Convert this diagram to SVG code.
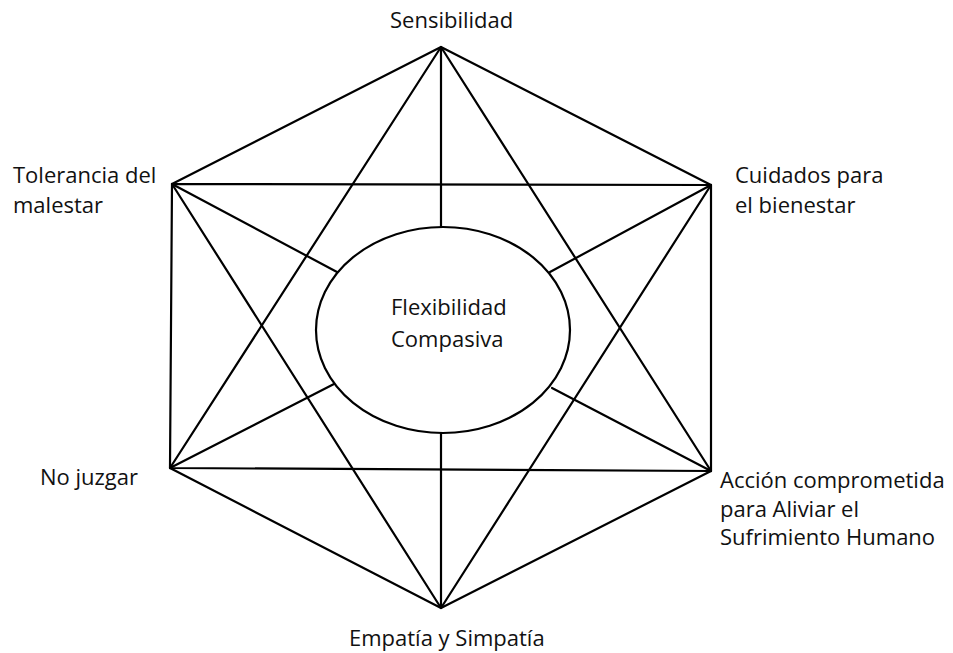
<svg xmlns="http://www.w3.org/2000/svg" width="953" height="653" viewBox="0 0 953 653">
  <style>
    .edge { stroke: #000; stroke-width: 2.2; fill: none; stroke-linecap: round; stroke-linejoin: round; }
    .core { stroke: #000; stroke-width: 2.2; fill: #fff; }
    .label { font-family: "Open Sans", "Noto Sans", sans-serif; font-size: 22px; fill: #111; }
  </style>
  <rect width="953" height="653" fill="#fff"/>

  <g id="connectors">
    <!-- outer hexagon -->
    <polygon class="edge" points="441,47 711,185 711,471 441,608 170,468 172,184"/>
    <!-- two interlaced triangles -->
    <polygon class="edge" points="441,47 711,471 170,468"/>
    <polygon class="edge" points="441,608 172,184 711,185"/>
    <!-- spokes towards the centre -->
    <line class="edge" x1="441" y1="47" x2="441" y2="228"/>
    <line class="edge" x1="441" y1="433" x2="441" y2="608"/>
    <line class="edge" x1="172" y1="184" x2="337" y2="272"/>
    <line class="edge" x1="711" y1="185" x2="550" y2="272"/>
    <line class="edge" x1="170" y1="468" x2="334" y2="384"/>
    <line class="edge" x1="711" y1="471" x2="552" y2="388"/>
  </g>

  <g id="center">
    <ellipse class="core" cx="443" cy="330" rx="127" ry="103"/>
    <text class="label" x="391" y="315">Flexibilidad</text>
    <text class="label" x="391" y="347">Compasiva</text>
  </g>

  <g id="sensibilidad">
    <text class="label" x="390" y="28">Sensibilidad</text>
  </g>
  <g id="cuidados">
    <text class="label" x="735" y="183">Cuidados para</text>
    <text class="label" x="735" y="213">el bienestar</text>
  </g>
  <g id="accion">
    <text class="label" x="720" y="488">Acción comprometida</text>
    <text class="label" x="720" y="517">para Aliviar el</text>
    <text class="label" x="720" y="545">Sufrimiento Humano</text>
  </g>
  <g id="empatia">
    <text class="label" x="349" y="646">Empatía y Simpatía</text>
  </g>
  <g id="no-juzgar">
    <text class="label" x="40" y="485">No juzgar</text>
  </g>
  <g id="tolerancia">
    <text class="label" x="13" y="183">Tolerancia del</text>
    <text class="label" x="13" y="213">malestar</text>
  </g>
</svg>
